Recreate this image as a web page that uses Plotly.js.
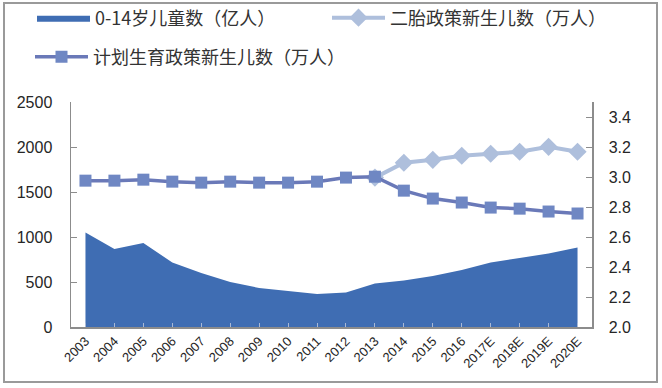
<!DOCTYPE html>
<html>
<head>
<meta charset="utf-8">
<script src="https://cdn.plot.ly/plotly-3.0.1.min.js"></script>
<style>
html,body{margin:0;padding:0;background:#fff;}
#chart{width:662px;height:388px;}
</style>
</head>
<body>
<div id="chart"></div>
<script>
const years = ['2003','2004','2005','2006','2007','2008','2009','2010','2011','2012','2013','2014','2015','2016','2017E','2018E','2019E','2020E'];
const children = [2.63,2.52,2.56,2.43,2.36,2.30,2.26,2.24,2.22,2.23,2.29,2.31,2.34,2.38,2.43,2.46,2.49,2.53];
const secondChildYears = ['2013','2014','2015','2016','2017E','2018E','2019E','2020E'];
const secondChild = [1660,1825,1858,1903,1925,1947,2002,1947];
const planned = [1626,1626,1637,1615,1604,1615,1604,1604,1615,1660,1670,1515,1427,1383,1327,1315,1283,1261];

const CJK = '"Noto Sans CJK SC", "Noto Sans", sans-serif';
const NUM = '"Liberation Sans", Arial, sans-serif';

// pixel -> paper helpers for the fixed plot box (l=71, r=70, t=102, b=61)
const PX = px => (px - 71) / 521;
const PY = py => (327 - py) / 225;

const traces = [
  {
    x: years, y: children, name: '0-14岁儿童数（亿人）', type: 'scatter', mode: 'lines',
    fill: 'tozeroy', fillcolor: '#3f6db3', line: {color: '#3f6db3', width: 0},
    yaxis: 'y2', legend: 'legend'
  },
  {
    x: secondChildYears, y: secondChild, name: '二胎政策新生儿数（万人）', type: 'scatter', mode: 'lines+markers',
    line: {color: '#aebfdc', width: 4}, marker: {symbol: 'diamond', size: 14, color: '#aebfdc'},
    legend: 'legend2'
  },
  {
    x: years, y: planned, name: '计划生育政策新生儿数（万人）', type: 'scatter', mode: 'lines+markers',
    line: {color: '#6a79b8', width: 3.5}, marker: {symbol: 'square', size: 12, color: '#6f87c3'},
    legend: 'legend3'
  }
];

const legBase = {
  font: {family: CJK, size: 18, color: '#333'}, itemwidth: 53,
  bgcolor: 'rgba(0,0,0,0)', xanchor: 'left', yanchor: 'middle'
};

const layout = {
  width: 662, height: 388,
  margin: {l: 71, r: 70, t: 102, b: 61, autoexpand: false},
  paper_bgcolor: '#fff', plot_bgcolor: '#fff',
  showlegend: true,
  legend: Object.assign({}, legBase, {x: PX(32), y: PY(18)}),
  legend2: Object.assign({}, legBase, {x: PX(327), y: PY(18)}),
  legend3: Object.assign({}, legBase, {x: PX(30), y: PY(57)}),
  xaxis: {
    type: 'category', range: [-0.5, 17.5], showgrid: false, zeroline: false,
    showline: true, linecolor: '#8c8c8c', linewidth: 1.5,
    ticks: 'inside', ticklen: 4, tickcolor: '#a9b9d6', tickangle: -45,
    tickfont: {family: NUM, size: 13, color: '#262626'}
  },
  yaxis: {
    range: [0, 2500], dtick: 500, showgrid: false, zeroline: false,
    showline: true, linecolor: '#8c8c8c', linewidth: 1.5,
    ticks: 'inside', ticklen: 6, tickcolor: '#8c8c8c',
    tickfont: {family: NUM, size: 16, color: '#262626'}, ticklabelstandoff: 14
  },
  yaxis2: {
    range: [2.0, 3.5], dtick: 0.2, tickformat: '.1f', overlaying: 'y', side: 'right',
    showgrid: false, zeroline: false,
    showline: true, linecolor: '#8c8c8c', linewidth: 1.5,
    ticks: 'inside', ticklen: 6, tickcolor: '#8c8c8c',
    tickfont: {family: NUM, size: 16, color: '#262626'}, ticklabelstandoff: 12
  },
  shapes: [
    {type: 'rect', xref: 'paper', yref: 'paper', x0: PX(4), x1: PX(657), y0: PY(382), y1: PY(3),
     line: {color: '#9a9a9a', width: 2}, fillcolor: 'rgba(0,0,0,0)', layer: 'below'}
  ]
};

Plotly.newPlot('chart', traces, layout, {displayModeBar: false, staticPlot: true});
</script>
</body>
</html>
